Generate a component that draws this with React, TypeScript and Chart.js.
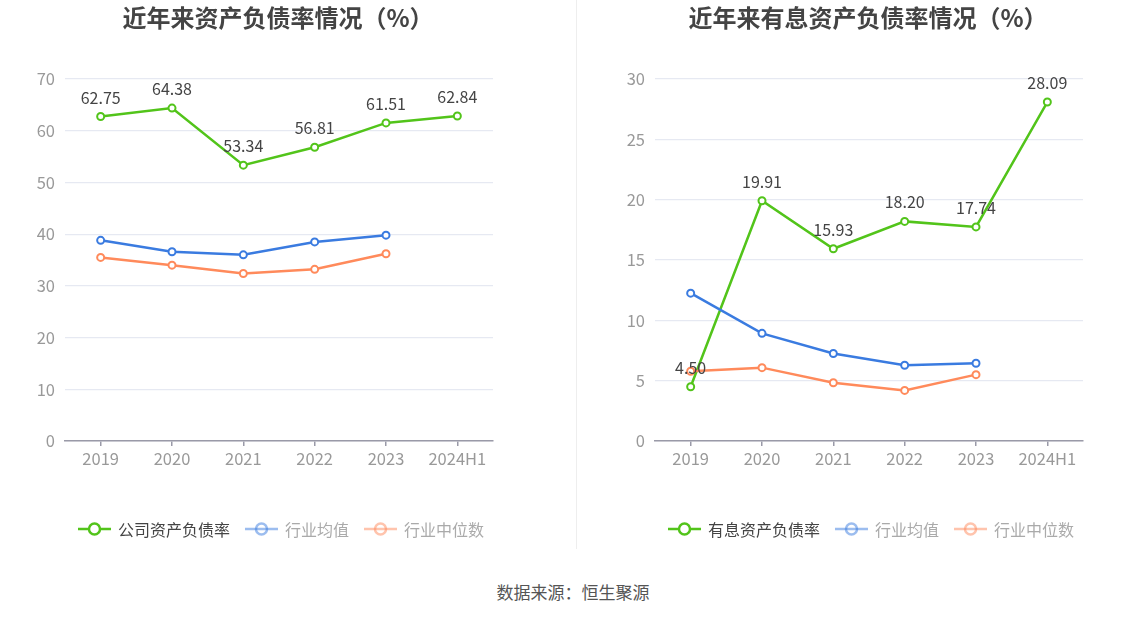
import React, { useEffect, useRef } from "react";
import { Chart, registerables } from "chart.js";

Chart.register(...registerables);

const categories = ["2019", "2020", "2021", "2022", "2023", "2024H1"];

const leftTitle = "近年来资产负债率情况（%）";
const leftCompany = [62.75, 64.38, 53.34, 56.81, 61.51, 62.84];
const leftIndustryAvg = [38.8, 36.6, 36.0, 38.5, 39.8, null];
const leftIndustryMedian = [35.5, 34.0, 32.4, 33.2, 36.2, null];
const leftNames = ["公司资产负债率", "行业均值", "行业中位数"];

const rightTitle = "近年来有息资产负债率情况（%）";
const rightCompany = [4.5, 19.91, 15.93, 18.2, 17.74, 28.09];
const rightIndustryAvg = [12.25, 8.92, 7.25, 6.28, 6.44, null];
const rightIndustryMedian = [5.78, 6.08, 4.83, 4.19, 5.5, null];
const rightNames = ["有息资产负债率", "行业均值", "行业中位数"];

const sourceText = "数据来源：恒生聚源";

const GREEN = "#52c41a";
const BLUE = "#3a7be0";
const ORANGE = "#ff8a5b";
const FONT = '"Noto Sans CJK SC", "Noto Sans", sans-serif';

const valueLabels = {
  id: "valueLabels",
  afterDatasetsDraw(chart: any) {
    const ctx = chart.ctx;
    chart.data.datasets.forEach((ds: any, i: number) => {
      if (!ds.showLabels) return;
      const meta = chart.getDatasetMeta(i);
      meta.data.forEach((pt: any, j: number) => {
        const v = ds.data[j];
        if (v == null) return;
        ctx.save();
        ctx.font = `16px ${FONT}`;
        ctx.fillStyle = "#444";
        ctx.textAlign = "center";
        ctx.textBaseline = "bottom";
        ctx.fillText(Number(v).toFixed(2), pt.x, pt.y - 11);
        ctx.restore();
      });
    });
  },
};

// Legend drawn from the chart's own datasets (line + ring icon, faded for industry series)
const lineLegend = {
  id: "lineLegend",
  afterDraw(chart: any, _args: any, opts: any) {
    const ctx = chart.ctx;
    const items = chart.data.datasets.map((ds: any, i: number) => ({
      text: ds.label,
      color: ds.borderColor,
      faded: i > 0,
    }));
    const iconW = 33;
    const gap = 7;
    const spacing = 15;
    ctx.save();
    ctx.font = `16px ${FONT}`;
    const widths = items.map((it: any) => iconW + gap + ctx.measureText(it.text).width);
    const total = widths.reduce((a: number, b: number) => a + b, 0) + spacing * (items.length - 1);
    const cx = (chart.chartArea.left + chart.chartArea.right) / 2 + (opts.shift || 0);
    const y = opts.y;
    let x = cx - total / 2;
    items.forEach((it: any, i: number) => {
      ctx.save();
      ctx.globalAlpha = it.faded ? 0.5 : 1;
      ctx.strokeStyle = it.color;
      ctx.lineWidth = 2.5;
      const ccx = x + iconW / 2;
      ctx.beginPath();
      ctx.arc(ccx, y, 5.5, 0, Math.PI * 2);
      ctx.fillStyle = "#fff";
      ctx.fill();
      ctx.stroke();
      ctx.beginPath();
      if (it.faded) {
        ctx.moveTo(x, y);
        ctx.lineTo(x + iconW, y);
      } else {
        ctx.moveTo(x, y);
        ctx.lineTo(ccx - 5.5, y);
        ctx.moveTo(ccx + 5.5, y);
        ctx.lineTo(x + iconW, y);
      }
      ctx.stroke();
      ctx.restore();
      ctx.fillStyle = it.faded ? "#aaa" : "#444";
      ctx.textAlign = "left";
      ctx.textBaseline = "middle";
      ctx.fillText(it.text, x + iconW + gap, y + 1);
      x += widths[i] + spacing;
    });
    ctx.restore();
  },
};

function LineChart(props: {
  company: (number | null)[];
  avg: (number | null)[];
  median: (number | null)[];
  names: string[];
  max: number;
  step: number;
  yWidth: number;
  padRight: number;
  width: number;
}) {
  const ref = useRef<HTMLCanvasElement>(null);
  useEffect(() => {
    const colors = [GREEN, BLUE, ORANGE];
    const mk = (data: any, idx: number) => ({
      label: props.names[idx],
      data,
      borderColor: colors[idx],
      backgroundColor: "#fff",
      pointBackgroundColor: "#fff",
      pointBorderColor: colors[idx],
      pointBorderWidth: 2,
      pointRadius: 3.5,
      borderWidth: 2.5,
      tension: 0,
      showLabels: idx === 0,
      order: 3 - idx,
    });
    const chart = new Chart(ref.current!, {
      type: "line",
      data: {
        labels: categories,
        datasets: [mk(props.company, 0), mk(props.avg, 1), mk(props.median, 2)] as any,
      },
      plugins: [valueLabels, lineLegend],
      options: {
        animation: false,
        responsive: false,
        devicePixelRatio: 1,
        layout: { padding: { left: 0, right: props.padRight, top: 79, bottom: 0 } },
        plugins: {
          title: { display: false },
          tooltip: { enabled: false },
          legend: { display: false },
          lineLegend: { y: 529, shift: 2 },
        },
        scales: {
          x: {
            offset: true,
            afterFit: (s: any) => {
              s.height = 119;
            },
            grid: {
              display: true,
              offset: false,
              drawOnChartArea: false,
              drawTicks: true,
              tickLength: 5,
              color: "#9a9aa8",
              lineWidth: 1.5,
            },
            border: { display: true, color: "#9a9aa8", width: 1.5 },
            ticks: {
              color: "#999",
              padding: 3,
              font: { size: 16.5, family: FONT },
              maxRotation: 0,
              autoSkip: false,
            },
          },
          y: {
            min: 0,
            max: props.max,
            afterFit: (s: any) => {
              s.width = props.yWidth;
            },
            grid: { color: "#e6e9f2", lineWidth: 1.2, drawTicks: false },
            border: { display: false },
            ticks: {
              stepSize: props.step,
              color: "#999",
              padding: 10,
              font: { size: 16.5, family: FONT },
            },
          },
        },
      } as any,
    });
    return () => chart.destroy();
  }, []);
  return <canvas ref={ref} width={props.width} height={560} />;
}

const titleStyle: React.CSSProperties = {
  position: "absolute",
  width: 600,
  top: 4,
  textAlign: "center",
  fontSize: 24,
  lineHeight: "26px",
  fontWeight: "bold",
  color: "#444",
};

export default function App() {
  return (
    <div
      style={{
        position: "fixed",
        left: 0,
        top: 0,
        width: 1147,
        height: 619,
        background: "#fff",
        fontFamily: FONT,
        overflow: "hidden",
      }}
    >
      <div style={{ position: "absolute", left: 0, top: 0, width: 576, height: 560 }}>
        <LineChart
          company={leftCompany}
          avg={leftIndustryAvg}
          median={leftIndustryMedian}
          names={leftNames}
          max={70}
          step={10}
          yWidth={65}
          padRight={83}
          width={576}
        />
      </div>
      <div style={{ position: "absolute", left: 576, top: 0, width: 571, height: 560 }}>
        <LineChart
          company={rightCompany}
          avg={rightIndustryAvg}
          median={rightIndustryMedian}
          names={rightNames}
          max={30}
          step={5}
          yWidth={79}
          padRight={64}
          width={571}
        />
      </div>
      <div style={{ position: "absolute", left: 576, top: 0, width: 1, height: 549, background: "#eee" }} />
      <div style={{ ...titleStyle, left: 278 - 300 }}>{leftTitle}</div>
      <div style={{ ...titleStyle, left: 868 - 300 }}>{rightTitle}</div>
      <div
        style={{
          position: "absolute",
          left: 573 - 200,
          width: 400,
          top: 582,
          textAlign: "center",
          fontSize: 17,
          lineHeight: "20px",
          color: "#555",
        }}
      >
        {sourceText}
      </div>
    </div>
  );
}
